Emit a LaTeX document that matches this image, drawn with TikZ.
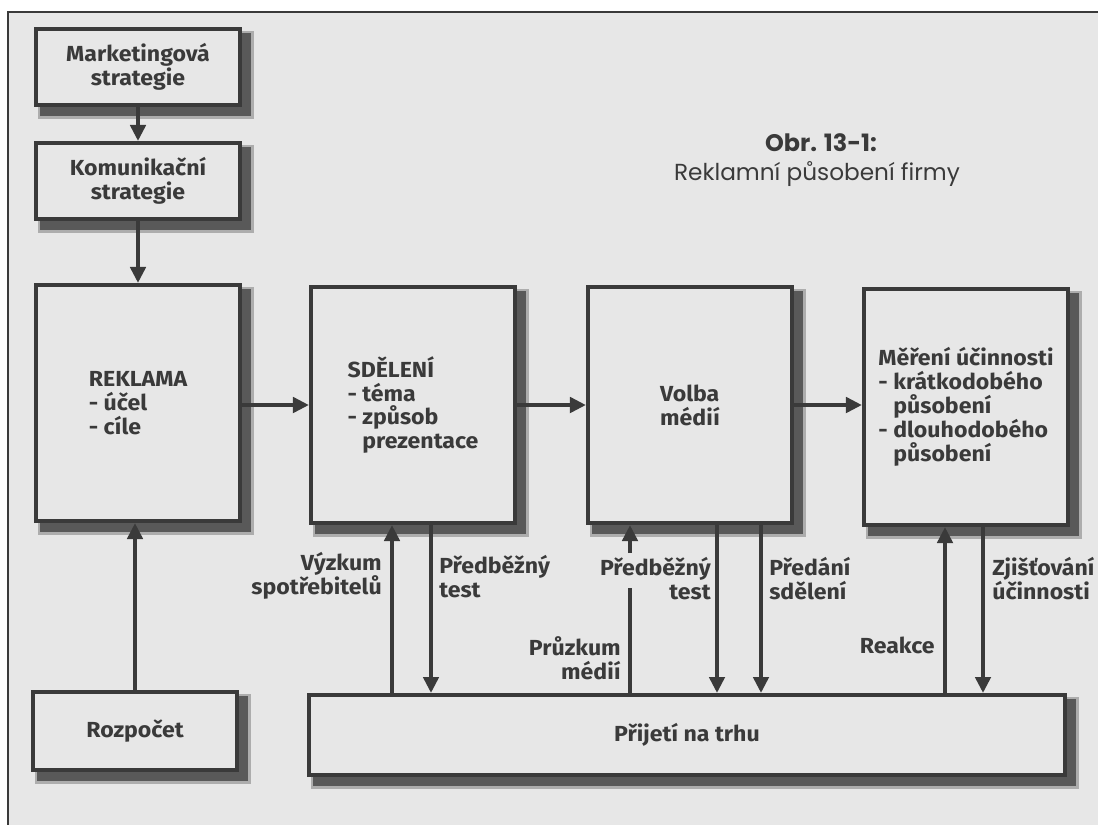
\documentclass[tikz,border=0pt]{standalone}
\usepackage{fontspec}
\setmainfont{Fira Sans}
\newfontfamily\blokfont[FakeStretch=1.06]{Fira Sans}
\newfontfamily\nadpisfont{Poppins}
\usepackage{tikz}
\usetikzlibrary{arrows.meta}
\pgfdeclarelayer{podklad}
\pgfdeclarelayer{stin}
\pgfsetlayers{podklad,stin,main}
\definecolor{papir}{RGB}{231,231,231}
\definecolor{inkoust}{RGB}{58,58,58}
\tikzstyle{blok}=[rectangle, draw=inkoust, line width=0.1cm, fill=papir, text=inkoust, font=\blokfont\fontsize{15.5}{17}\selectfont\bfseries, align=left, inner sep=0pt, minimum width=5.1cm, minimum height=5.9cm]
\tikzstyle{popis}=[text=inkoust, font=\blokfont\fontsize{15.5}{17}\selectfont\bfseries, inner sep=0pt]
\tikzstyle{nadpis}=[text=inkoust, font=\nadpisfont\fontsize{16.5}{20}\selectfont, inner sep=0pt, anchor=base]
\tikzstyle{car}=[draw=inkoust, line width=0.1cm]
\tikzstyle{sip}=[car, -{Triangle[width=0.38cm,length=0.4cm]}]

\begin{document}
\begin{tikzpicture}[x=0.025cm, y=-0.025cm]
				\useasboundingbox (0,0) rectangle (1098,825);
				\begin{pgfonlayer}{podklad}
				\fill[white] (0,0) rectangle (1098,825);
				\fill[papir] (8,12) rectangle (1098,825);
				\draw[inkoust, line width=0.07cm] (1098,12) -- (8,12) -- (8,825);
				\end{pgfonlayer}

				\node[nadpis, font=\nadpisfont\fontsize{17}{20}\selectfont\bfseries] (obr) at (821,151) {Obr. 13-1:};
				\node[nadpis] (nazev) at (817,180) {Reklamní působení firmy};

				\node[blok, minimum height=1.9cm, align=center] (mark) at (138,67) {Marketingová\\strategie};
				\node[blok, minimum height=1.9cm, align=center] (komun) at (138,181) {Komunikační\\strategie};
				\node[blok] (rekl) at (138,403) {REKLAMA\\- účel\\- cíle};
				\node[blok] (sdel) at (413,405) {SDĚLENÍ\\- téma\\- způsob\\\hphantom{- }prezentace};
				\node[blok] (volba) at (690,405) {Volba\\médií};
				\node[blok] (mereni) at (966,407) {Měření účinnosti\\- krátkodobého\\\hphantom{- }působení\\- dlouhodobého\\\hphantom{- }působení};
				\node[blok, minimum height=1.95cm, align=center] (rozp) at (135,731) {Rozpočet};
				\node[blok, minimum width=18.9cm, minimum height=2cm, align=center] (prijeti) at (687,735) {Přijetí na trhu};

				\begin{pgfonlayer}{stin}
				\foreach \n in {mark,komun,rekl,sdel,volba,mereni,rozp,prijeti}{
					\fill[black!32] ([shift={(4,4)}]\n.north west) rectangle ([shift={(12,12)}]\n.south east);
					\fill[black!65] ([shift={(6,6)}]\n.north west) rectangle ([shift={(9,9)}]\n.south east);
				}
				\end{pgfonlayer}

				\coordinate (x1) at (392,0);
				\coordinate (x2) at (431,0);
				\coordinate (x3) at (630,0);
				\coordinate (x4) at (717,0);
				\coordinate (x5) at (761,0);
				\coordinate (x6) at (945,0);
				\coordinate (x7) at (983,0);
				\coordinate (mezeraH) at (630,553);
				\coordinate (mezeraD) at (630,588);

				\draw[sip](mark)--(komun);
				\draw[sip](komun)--(rekl);
				\draw[sip](rozp.north)--(rekl.south -| rozp.north);
				\draw[sip](rekl.east |- sdel.west)--(sdel.west);
				\draw[sip](sdel.east)--(volba.west);
				\draw[sip](volba.east)--(mereni.west |- volba.east);

				\draw[sip](prijeti.north -| x1)--(sdel.south -| x1);
				\draw[sip](sdel.south -| x2)--(prijeti.north -| x2);
				\draw[car](prijeti.north -| x3)--(mezeraD);
				\draw[sip](mezeraH)--(volba.south -| x3);
				\draw[sip](volba.south -| x4)--(prijeti.north -| x4);
				\draw[sip](volba.south -| x5)--(prijeti.north -| x5);
				\draw[sip](prijeti.north -| x6)--(mereni.south -| x6);
				\draw[sip](mereni.south -| x7)--(prijeti.north -| x7);

				\node[popis, align=right, anchor=base east] (vyzk) at (382,594) {Výzkum\\spotřebitelů};
				\node[popis, align=left, anchor=base west] (test1) at (439,597) {Předběžný\\test};
				\node[popis, align=right, anchor=base east] (test2) at (711,599) {Předběžný\\test};
				\node[popis, align=right, anchor=base east] (pruz) at (621,679) {Průzkum\\médií};
				\node[popis, align=left, anchor=base west] (pred) at (769,599) {Předání\\sdělení};
				\node[popis, anchor=base east] (reak) at (935,653) {Reakce};
				\node[popis, align=left, anchor=base west] (zjist) at (992,599) {Zjišťování\\účinnosti};
			\end{tikzpicture}
\end{document}
